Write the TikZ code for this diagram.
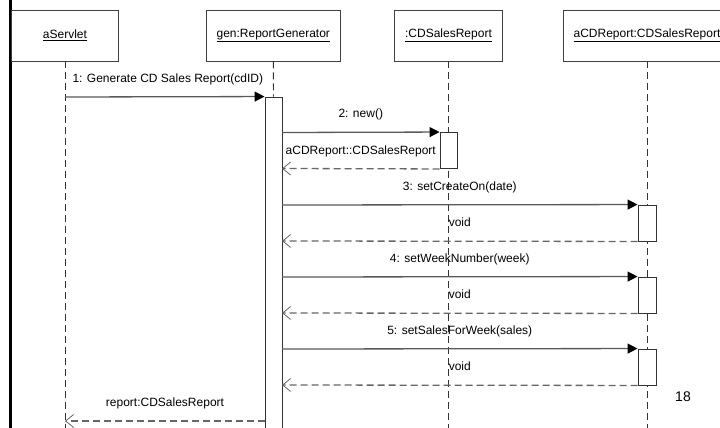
\documentclass[tikz,border=0pt]{standalone}
\usepackage{fontspec}
\setmainfont{Liberation Sans}
\usetikzlibrary{arrows.meta}
\begin{document}
\begin{tikzpicture}[x=1pt,y=-1pt,
  txt/.style={font=\fontsize{12}{14}\selectfont},
  obj/.style={txt, draw=black!75, line width=0.9pt, fill=white, minimum width=#1, minimum height=51pt, inner sep=0pt},
  act/.style={draw=black!80, line width=0.9pt, fill=white, minimum width=#1, inner sep=0pt},
  life/.style={draw=black!80, line width=0.9pt, dash pattern=on 7pt off 4pt},
  msg/.style={draw=black!65, line width=1.3pt, -{Triangle[length=10pt,width=10pt,black]}},
  ret/.style={draw=black!60, line width=1.3pt, dash pattern=on 7pt off 4pt, -{Straight Barb[length=8pt,width=13pt,line width=0.8pt]}},
  lbl/.style={txt, inner sep=0pt, anchor=base, yshift=14.5pt}
]
\useasboundingbox (0,0) rectangle (720,428);
\clip (0,0) rectangle (720,428);
\fill[white] (0,0) rectangle (720,428);
% left frame line
\draw[line width=2.7pt] (10.3,-5) -- (10.3,433);
% objects
\node[obj=107pt] (servlet) at (65,35.5) {\underline{aServlet}};
\node[obj=134pt] (gen) at (273.3,35.5) {\underline{gen:ReportGenerator}};
\node[obj=108pt] (cds) at (448.5,35.5) {\underline{:CDSalesReport}};
\node[obj=168pt] (acd) at (647,35.5) {\underline{aCDReport:CDSalesReport}};
% lifeline ends
\coordinate (servletEnd) at (65,432);
\coordinate (cdsEnd) at (448.5,432);
\coordinate (acdEnd) at (647,432);
\draw[life] (servlet.south) -- (servletEnd);
\draw[life] (cds.south) -- (cdsEnd);
\draw[life] (acd.south) -- (acdEnd);
% activations
\node[act=17pt, minimum height=336pt] (genact) at (273.5,265) {};
\draw[life] (gen.south) -- (genact.north);
\node[act=17pt, minimum height=36pt] (cdsact) at (448.5,150.5) {};
\node[act=18pt, minimum height=36pt] (acdA) at (647,223) {};
\node[act=18pt, minimum height=36pt] (acdB) at (647,295) {};
\node[act=18pt, minimum height=36pt] (acdC) at (647,367) {};
% anchor points on lifelines / activation
\coordinate (s1) at (65,97);
\coordinate (g2) at (282,132.5);
\coordinate (g2r) at (282,168.5);
\coordinate (g3) at (282,205);
\coordinate (g3r) at (282,241);
\coordinate (g4) at (282,277);
\coordinate (g4r) at (282,313);
\coordinate (g5) at (282,349);
\coordinate (g5r) at (282,385);
\coordinate (g6) at (265,421);
\coordinate (s6) at (65,421);
% messages
\draw[msg] (s1) -- (genact.north west) node[lbl, midway, xshift=3pt] {1: Generate CD Sales Report(cdID)};
\draw[msg] (g2) -- (cdsact.north west) node[lbl, midway] {2: new()};
\draw[ret] (cdsact.south west) -- (g2r) node[lbl, midway] {aCDReport::CDSalesReport};
\draw[msg] (g3) -- (acdA.north west) node[lbl, midway] {3: setCreateOn(date)};
\draw[ret] (acdA.south west) -- (g3r) node[lbl, midway] {void};
\draw[msg] (g4) -- (acdB.north west) node[lbl, midway] {4: setWeekNumber(week)};
\draw[ret] (acdB.south west) -- (g4r) node[lbl, midway] {void};
\draw[msg] (g5) -- (acdC.north west) node[lbl, midway] {5: setSalesForWeek(sales)};
\draw[ret] (acdC.south west) -- (g5r) node[lbl, midway] {void};
\draw[ret] (g6) -- (s6) node[lbl, midway] {report:CDSalesReport};
% page number
\node[font=\fontsize{14}{16}\selectfont, inner sep=0pt] (pg) at (683,397) {18};
\end{tikzpicture}
\end{document}
